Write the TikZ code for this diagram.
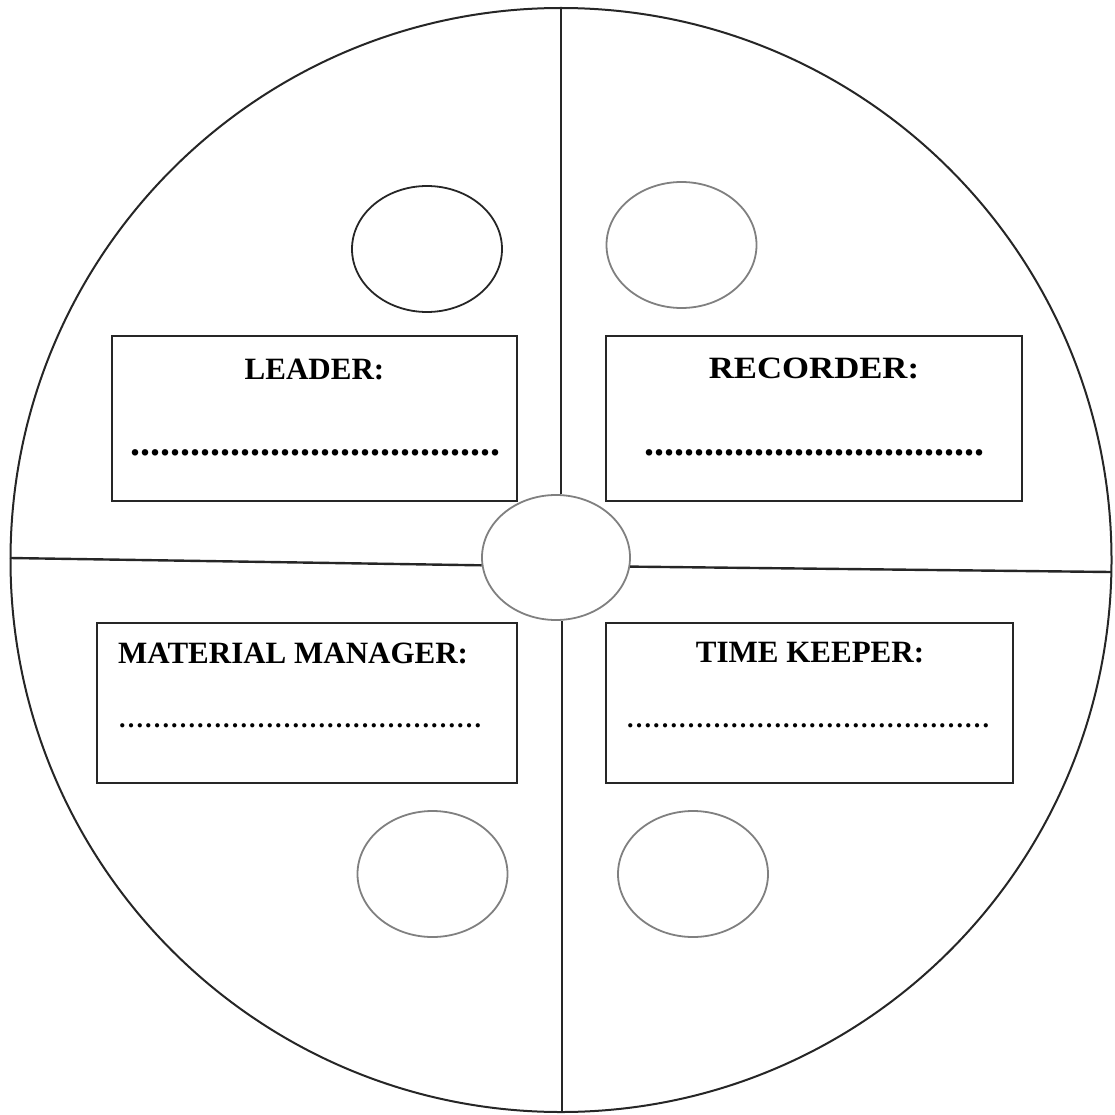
\documentclass[tikz,border=0pt]{standalone}
\usepackage{fontspec}
\setmainfont{Liberation Serif}
\usetikzlibrary{shapes.geometric}
\newcommand\ellrow{\foreach \k in {1,...,14}{\char"2026}}
\tikzset{
  seat/.style={draw=black!50, line width=1.8pt, ellipse, minimum width=150pt, minimum height=126pt, inner sep=0pt},
  rolebox/.style={draw=black!85, line width=2.6pt, rectangle, inner sep=0pt},
  divider/.style={draw=black!85, line width=2.4pt},
  title/.style={font=\bfseries\fontsize{31}{31}\selectfont, inner sep=0pt},
  dotline/.style={font=\bfseries\fontsize{40}{40}\selectfont, inner sep=0pt},
  elline/.style={font=\bfseries\fontsize{26}{26}\selectfont, inner sep=0pt}
}
\begin{document}
\begin{tikzpicture}[x=1pt,y=-1pt]
\useasboundingbox (0,0) rectangle (1114,1115);
% outer circle
\node[draw=black!85, line width=2pt, ellipse, minimum width=1101pt, minimum height=1104pt, inner sep=0pt] (outer) at (561,560) {};
% center ellipse
\node[seat, minimum width=148pt, minimum height=125pt] (c) at (556,557.5) {};
% dividers
\coordinate (top) at (561,8);
\coordinate (bot) at (562,1112);
\coordinate (lft) at (10,558);
\coordinate (rgt) at (1111,572);
\draw[divider] (top) -- (c.north -| top);
\draw[divider] (c.south -| bot) -- (bot);
\draw[divider] (lft) -- (c.186);
\draw[divider] (c.353) -- (rgt);
% role boxes
\node[rolebox, minimum width=405pt, minimum height=165pt] (lb) at (314.5,418.5) {};
\node[rolebox, minimum width=416pt, minimum height=165pt] (rb) at (814,418.5) {};
\node[rolebox, minimum width=420pt, minimum height=160pt] (mb) at (307,703) {};
\node[rolebox, minimum width=407pt, minimum height=160pt] (tb) at (809.5,703) {};
% seats
\node[seat, draw=black!85] (s1) at (427,249) {};
\node[seat] (s2) at (681.5,245) {};
\node[seat] (s3) at (432.5,874) {};
\node[seat] (s4) at (693,874) {};
% titles
\node[title] (t1) at (314.5,369) {LEADER:};
\node[title] (t2) at (814,368) {\scalebox{1.12}[1]{RECORDER:}};
\node[title, anchor=west] (t3) at (118,653) {MATERIAL MANAGER:};
\node[title] (t4) at (810,653) {TIME KEEPER:};
% dotted lines
\node[dotline, anchor=base] (d1) at (315,455) {.....................................};
\node[dotline, anchor=base] (d2) at (814,455) {..................................};
\node[elline, anchor=base west] (d3) at (118,727) {\ellrow};
\node[elline, anchor=base] (d4) at (808,727) {\ellrow};
\end{tikzpicture}
\end{document}
